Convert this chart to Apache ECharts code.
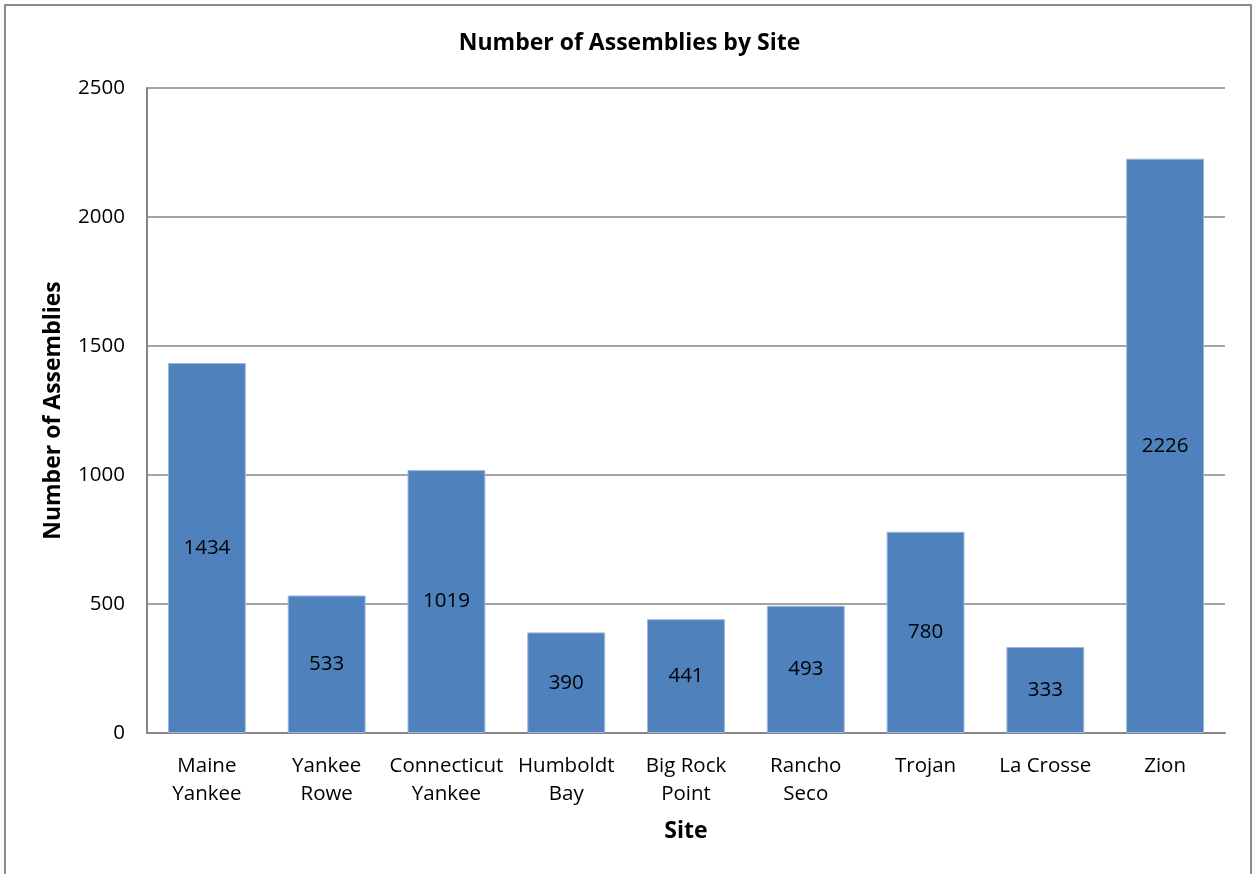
<!DOCTYPE html>
<html><head><meta charset="utf-8">
<script src="https://cdn.jsdelivr.net/npm/echarts@6/dist/echarts.min.js"></script>
<style>html,body{margin:0;padding:0;background:#fff}#c{width:1259px;height:874px}</style>
</head><body><div id="c"></div>
<script>
const categories = ['Maine\nYankee','Yankee\nRowe','Connecticut\nYankee','Humboldt\nBay','Big Rock\nPoint','Rancho\nSeco','Trojan','La Crosse','Zion'];
const assemblies = [1434, 533, 1019, 390, 441, 493, 780, 333, 2226];
const yTicks = {min: 0, max: 2500, interval: 500};
const titleText = 'Number of Assemblies by Site';
const xName = 'Site';
const yName = 'Number of Assemblies';

const font = 'Open Sans';
const chart = echarts.init(document.getElementById('c'), null, {renderer: 'canvas'});
chart.setOption({
  animation: false,
  backgroundColor: '#fff',
  graphic: [{type: 'rect', shape: {x: 5, y: 5, width: 1246, height: 900}, style: {fill: 'none', stroke: '#8c8c8c', lineWidth: 2}, z: 100}],
  title: {text: titleText, left: 'center', top: 27, textStyle: {fontFamily: font, fontWeight: 'bold', fontSize: 23, color: '#000'}},
  grid: {left: 147, right: 34, top: 88, bottom: 141},
  xAxis: {
    type: 'category', data: categories,
    name: xName, nameLocation: 'middle', nameGap: 87,
    nameTextStyle: {fontFamily: font, fontWeight: 'bold', fontSize: 23, color: '#000'},
    axisLine: {lineStyle: {color: '#868686', width: 2}},
    axisTick: {show: false},
    axisLabel: {fontFamily: font, fontSize: 20.5, color: '#000', margin: 19, lineHeight: 28, interval: 0}
  },
  yAxis: {
    type: 'value', min: yTicks.min, max: yTicks.max, interval: yTicks.interval,
    name: yName, nameLocation: 'middle', nameGap: 82, nameRotate: 90,
    nameTextStyle: {fontFamily: font, fontWeight: 'bold', fontSize: 23, color: '#000'},
    axisLine: {show: true, lineStyle: {color: '#868686', width: 2}},
    axisTick: {show: false},
    splitLine: {lineStyle: {color: '#868686', width: 1.5}},
    axisLabel: {fontFamily: font, fontSize: 20.5, color: '#000', margin: 22, formatter: v => String(v)}
  },
  series: [{
    type: 'bar', data: assemblies, barWidth: '65%',
    itemStyle: {color: '#4f81bd', borderColor: '#9bb8dc', borderWidth: 1},
    label: {show: true, position: 'inside', fontFamily: font, fontSize: 20.5, color: '#000'}
  }]
});
</script></body></html>
